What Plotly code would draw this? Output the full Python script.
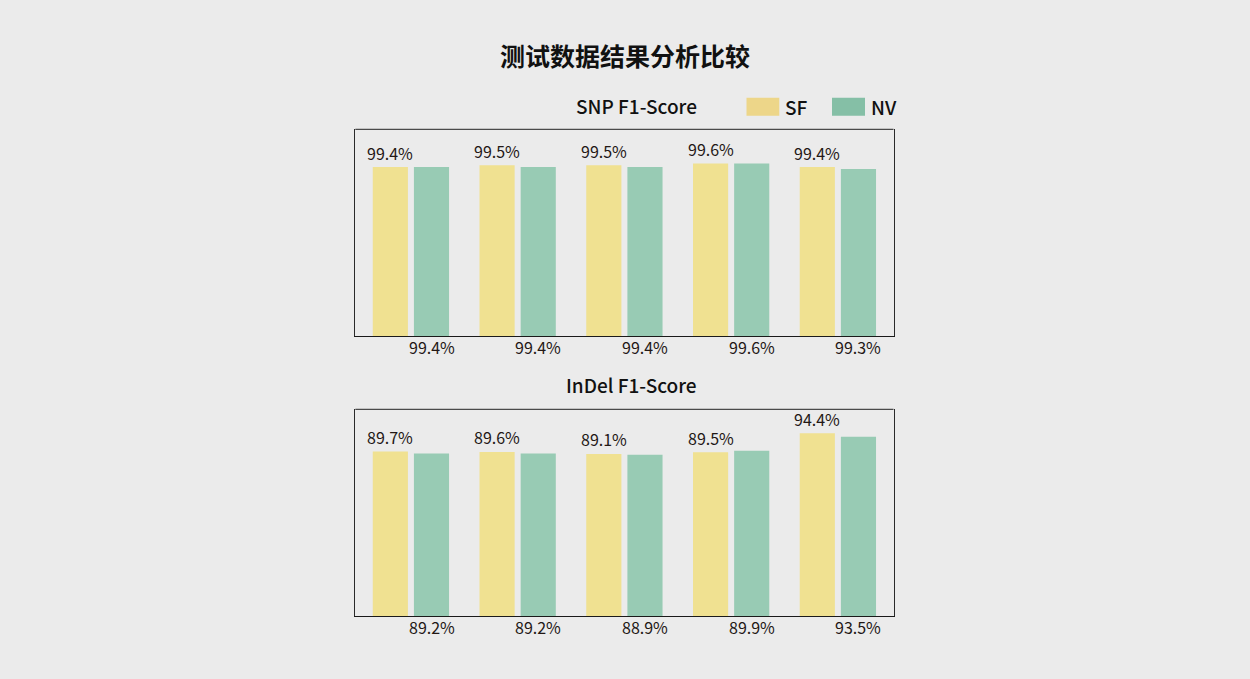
import plotly.graph_objects as go
from plotly.subplots import make_subplots

# ---- data ----
categories = ["样本1", "样本2", "样本3", "样本4", "样本5"]
snp_sf = [99.4, 99.5, 99.5, 99.6, 99.4]
snp_nv = [99.4, 99.4, 99.4, 99.6, 99.3]
indel_sf = [89.7, 89.6, 89.1, 89.5, 94.4]
indel_nv = [89.2, 89.2, 88.9, 89.9, 93.5]
series_names = ["SF", "NV"]
panel_titles = ["SNP F1-Score", "InDel F1-Score"]
main_title = "测试数据结果分析比较"

# ---- style ----
W, H = 1250, 679
BG = "#EBEBEB"
SF_BAR = "#F0E191"
NV_BAR = "#98CBB4"
SF_LEG = "#EDD689"
NV_LEG = "#85BFA6"
TXT = "#231815"
FONT = "Noto Sans CJK SC"

snp_range = [90.0, 101.5]
indel_range = [47.7, 100.5]
xr = [-0.521, 4.521]

def px_x(x):
    return x / W

def px_y(y):
    return 1 - y / H

fig = make_subplots(rows=2, cols=1)

panels = [(snp_sf, snp_nv, snp_range, 1), (indel_sf, indel_nv, indel_range, 2)]
for sf, nv, rng, row in panels:
    fig.add_trace(go.Bar(x=categories, y=sf, name=series_names[0], marker_color=SF_BAR,
                         marker_line_width=0, showlegend=False), row=row, col=1)
    fig.add_trace(go.Bar(x=categories, y=nv, name=series_names[1], marker_color=NV_BAR,
                         marker_line_width=0, showlegend=False), row=row, col=1)

fig.update_layout(
    width=W, height=H,
    margin=dict(l=0, r=0, t=0, b=0),
    paper_bgcolor=BG, plot_bgcolor=BG,
    barmode="group", bargap=0.229, bargroupgap=0.146,
    font=dict(family=FONT, color=TXT, size=16),
)

# domains
xd = [355.3 / W, 893.5 / W]
fig.update_xaxes(domain=xd, range=xr, showticklabels=False, ticks="", showgrid=False,
                 zeroline=False, showline=True, linecolor="#1a1a1a", linewidth=1.2, mirror=False)
fig.update_layout(
    yaxis=dict(domain=[px_y(336.3), px_y(129.3)], range=snp_range),
    yaxis2=dict(domain=[px_y(616.0), px_y(409.3)], range=indel_range),
)
fig.update_yaxes(showticklabels=False, ticks="", showgrid=False, zeroline=False,
                 showline=True, linecolor="#2a2a2a", linewidth=1.2, mirror=True)

# top border lines (slightly lighter)
for yref in ["y domain", "y2 domain"]:
    xref = "x domain" if yref == "y domain" else "x2 domain"
    fig.add_shape(type="line", xref=xref, yref=yref, x0=0, x1=1, y0=1, y1=1,
                  line=dict(color="#4a4a4a", width=1.2))

# value labels
ann = []
for (sf, nv, rng, row) in panels:
    xref = "x" if row == 1 else "x2"
    yref = "y" if row == 1 else "y2"
    for c, v in zip(categories, sf):
        ann.append(dict(x=c, y=v, xref=xref, yref=yref, text=f"{v:.1f}%", showarrow=False,
                        xshift=-20.6, yshift=14.5, yanchor="middle", xanchor="center",
                        font=dict(size=16, color=TXT, family=FONT)))
    for c, v in zip(categories, nv):
        ann.append(dict(x=c, y=rng[0], xref=xref, yref=yref, text=f"{v:.1f}%", showarrow=False,
                        xshift=20.6, yshift=-11, yanchor="middle", xanchor="center",
                        font=dict(size=16, color=TXT, family=FONT)))

# titles
ann.append(dict(x=0.5, y=px_y(54.7), xref="paper", yref="paper", text=f"<b>{main_title}</b>",
                showarrow=False, xanchor="center", yanchor="middle",
                font=dict(size=25, color="#111111", family=FONT)))
ann.append(dict(x=px_x(698.5), y=px_y(105.5), xref="paper", yref="paper", text=panel_titles[0],
                showarrow=False, xanchor="right", yanchor="middle",
                font=dict(size=19, color="#111111", family=FONT, weight=500)))
ann.append(dict(x=px_x(699), y=px_y(384.5), xref="paper", yref="paper", text=panel_titles[1],
                showarrow=False, xanchor="right", yanchor="middle",
                font=dict(size=19, color="#111111", family=FONT, weight=500)))

# legend (drawn)
legend_items = [(series_names[0], SF_LEG, 746.5, 779.3, 783.0), (series_names[1], NV_LEG, 832.0, 865.0, 868.5)]
for name, col, x0, x1, tx in legend_items:
    fig.add_shape(type="rect", xref="paper", yref="paper", x0=px_x(x0), x1=px_x(x1),
                  y0=px_y(115.7), y1=px_y(97.7), fillcolor=col, line=dict(width=0))
    ann.append(dict(x=px_x(tx), y=px_y(106.5), xref="paper", yref="paper", text=name,
                    showarrow=False, xanchor="left", yanchor="middle",
                    font=dict(size=19, color="#111111", family=FONT, weight=500)))

fig.update_layout(annotations=ann)
fig.write_html(
    "out.html",
    config={"displayModeBar": False},
    post_script="document.body.style.margin='0';document.body.style.background='#EBEBEB';document.body.style.overflow='hidden';",
)
